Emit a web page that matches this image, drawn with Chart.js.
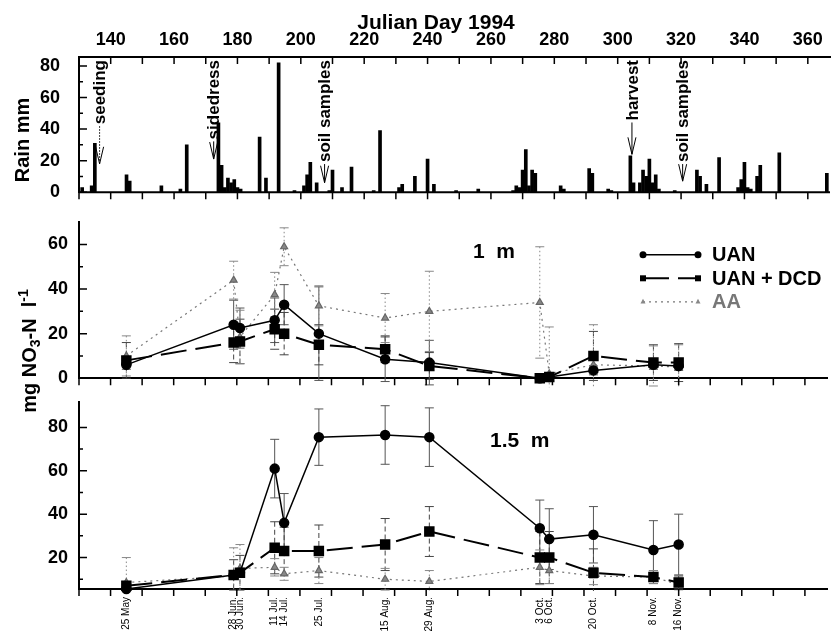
<!DOCTYPE html>
<html>
<head>
<meta charset="utf-8">
<script src="https://cdn.jsdelivr.net/npm/chart.js@4.4.1/dist/chart.umd.min.js"></script>
<style>
  body { margin: 0; background: #fff; }
  #wrap { position: relative; width: 835px; height: 635px; font-family: "Liberation Sans", Arial, sans-serif; }
  #wrap canvas { position: absolute; left: 0; }
  .lbl { position: absolute; font-weight: bold; white-space: nowrap; color: #000; line-height: 1;
         transform: translate(-50%, -50%); }
  .rot { transform: translate(-50%, -50%) rotate(-90deg); }
  .lbl sub { font-size: 70%; vertical-align: -0.25em; }
  .lbl sup { font-size: 70%; vertical-align: 0.55em; }
</style>
</head>
<body>
<div id="wrap">
  <canvas id="rain" width="835" height="222" style="top:0px"></canvas>
  <canvas id="m1" width="835" height="200" style="top:200px"></canvas>
  <canvas id="m15" width="835" height="255" style="top:380px"></canvas>
  <div class="lbl" style="left:436px; top:21px; font-size:21px;">Julian Day 1994</div>
  <div class="lbl rot" style="left:22px; top:140px; font-size:20px;">Rain mm</div>
  <div class="lbl rot" style="left:29px; top:351px; font-size:20px;">mg NO<sub>3</sub>-N&nbsp;&nbsp;l<sup>-1</sup></div>
</div>
<script>
// ---- data ----
const dayTickLabels = [140, 160, 180, 200, 220, 240, 260, 280, 300, 320, 340, 360];
const dayTickMarks = [130, 140, 150, 160, 170, 180, 190, 200, 210, 220, 230, 240,
                      250, 260, 270, 280, 290, 300, 310, 320, 330, 340, 350, 360];

// daily rain (Julian day, mm)
const rainDay = [131, 134, 135, 145, 146, 156, 162, 164, 174, 175, 176, 177, 178, 179, 180, 181,
                 187, 189, 193, 198, 201, 202, 203, 205, 209, 210, 213, 216, 223, 225, 231, 232,
                 236, 240, 242, 249, 256, 267, 268, 269, 270, 271, 272, 273, 274, 282, 283, 291,
                 292, 297, 298, 304, 305, 307, 308, 309, 310, 311, 312, 313, 318, 325, 326, 328,
                 332, 338, 339, 340, 341, 342, 344, 345, 351, 366];
const rainMm  = [3, 4, 31, 11, 7, 4, 2, 30, 44, 17, 3, 9, 6, 8, 3, 2,
                 35, 9, 82, 1, 4, 11, 19, 6, 1, 14, 3, 16, 1, 39, 3, 5,
                 10, 21, 5, 1, 2, 1, 4, 3, 14, 27, 4, 14, 12, 4, 2, 15,
                 12, 2, 1, 23, 6, 6, 14, 10, 21, 6, 11, 2, 1, 14, 10, 5,
                 22, 3, 8, 19, 3, 2, 10, 17, 25, 12];
const rainTicks = [0, 20, 40, 60, 80];
const rainMinor = [10, 30, 50, 70];

// field events marked on the rain panel
const eventText = ['seeding', 'sidedress', 'soil samples', 'harvest', 'soil samples'];
const eventDay  = [136.5, 172.5, 207.5, 304.5, 320.5];
const eventTip  = [18, 21, 6, 24, 7];

// sampling dates
const sampleDays = [145, 179, 181, 192, 195, 206, 227, 241, 276, 279, 293, 312, 320];
const dateLabels = ['25 May', '28 Jun.', '30 Jun.', '11 Jul.', '14 Jul.', '25 Jul.', '15 Aug.',
                    '29 Aug.', '3 Oct.', '6 Oct.', '20 Oct.', '8 Nov.', '16 Nov.'];
const seriesNames = ['UAN', 'UAN + DCD', 'AA'];

// 1 m depth, mg NO3-N per litre, with +/- error
const uan1  = [6, 24, 22.5, 26, 33, 20, 8.5, 7, 0, 0.5, 3.5, 6, 5.5];
const dcd1  = [8, 16, 16.5, 22, 20, 15, 13, 5.5, 0, 0.5, 10, 7, 7];
const aa1   = [10, 44, 18.5, 37.5, 59, 32.5, 27, 30, 34, 2, 6, 5.5, 5];
const uanE1 = [2, 11, 9, 10, 9, 21, 10, 10, 0, 0, 2, 2, 2];
const dcdE1 = [8, 9, 10, 9, 9.5, 9, 6, 6, 0, 0, 11, 8, 8.5];
const aaE1  = [9, 8.5, 12, 10, 8.5, 9, 11, 18, 25, 21, 18, 9, 10];
const m1Ticks = [0, 20, 40, 60];
const m1Minor = [10, 30, 50];

// 1.5 m depth
const uan2  = [5.5, 12, 13, 61, 36, 75.5, 76.5, 75.5, 33.5, 28.5, 30.5, 23.5, 26];
const dcd2  = [7, 12, 13, 24.5, 23, 23, 26, 32, 20, 20, 13, 11, 8.5];
const aa2   = [8.5, 11.5, 15, 15.5, 12.5, 14, 10, 9, 15.5, 14, 11.5, 11, 7.5];
const uanE2 = [2, 2, 2, 13.5, 13.5, 13, 13.5, 13.5, 13, 14, 13, 13.5, 14];
const dcdE2 = [2, 7, 8, 12, 11, 12, 12, 11.5, 12, 12, 11, 3, 3];
const aaE2  = [11.5, 13, 11, 4, 3, 6, 5, 5, 8, 6, 4, 3, 3];
const m15Ticks = [20, 40, 60, 80];
const m15Minor = [10, 30, 50, 70];

// ---- shared bits ----
const FONT = '"Liberation Sans", Arial, sans-serif';
const tickFont = { family: FONT, size: 18, weight: 'bold' };
const DAY_MIN = 130, DAY_MAX = 367;

// tick marks: x ticks hang downward from the axis line, y ticks point inward
const tickMarks = {
  id: 'tickMarks',
  afterDraw(chart, args, o) {
    const { ctx, chartArea: a, scales: { x, y } } = chart;
    ctx.save();
    ctx.strokeStyle = '#000';
    ctx.lineWidth = 1.5;
    ctx.beginPath();
    const yx = o.xTop ? a.top : a.bottom;
    dayTickMarks.forEach(d => {
      const px = x.getPixelForValue(d);
      ctx.moveTo(px, yx);
      ctx.lineTo(px, yx + 7);
      if (o.xTop) { ctx.moveTo(px, a.bottom); ctx.lineTo(px, a.bottom + 7); }
    });
    o.major.forEach(v => {
      const py = y.getPixelForValue(v);
      ctx.moveTo(a.left, py); ctx.lineTo(a.left + 8, py);
    });
    o.minor.forEach(v => {
      const py = y.getPixelForValue(v);
      ctx.moveTo(a.left, py); ctx.lineTo(a.left + 4, py);
    });
    ctx.stroke();
    if (o.xTop) {
      // rain panel baseline
      ctx.lineWidth = 2;
      ctx.beginPath();
      ctx.moveTo(a.left, a.bottom); ctx.lineTo(a.right, a.bottom);
      ctx.stroke();
    }
    ctx.restore();
  }
};

// arrows + rotated notes on the rain panel
const eventNotes = {
  id: 'eventNotes',
  afterDatasetsDraw(chart) {
    const { ctx, chartArea: a, scales: { x, y } } = chart;
    ctx.save();
    ctx.font = 'bold 17px ' + FONT;
    ctx.fillStyle = '#000';
    ctx.strokeStyle = '#000';
    eventText.forEach((t, i) => {
      const px = x.getPixelForValue(eventDay[i]);
      const top = a.top + 3;
      const w = ctx.measureText(t).width;
      ctx.save();
      ctx.translate(px + 1, top);
      ctx.rotate(-Math.PI / 2);
      ctx.textAlign = 'right';
      ctx.textBaseline = 'middle';
      ctx.fillText(t, 0, 0);
      ctx.restore();
      const tip = y.getPixelForValue(eventTip[i]);
      ctx.lineWidth = 1;
      ctx.setLineDash(i === 0 ? [1.5, 1.5] : []);
      ctx.beginPath();
      ctx.moveTo(px, top + w + 2);
      ctx.lineTo(px, tip);
      ctx.stroke();
      ctx.setLineDash([]);
      ctx.beginPath();
      ctx.moveTo(px - 4, tip - 17); ctx.lineTo(px, tip); ctx.lineTo(px + 4, tip - 17);
      ctx.stroke();
    });
    ctx.restore();
  }
};

// vertical +/- error whiskers under the points
const errorBars = {
  id: 'errorBars',
  beforeDatasetsDraw(chart, args, o) {
    const { ctx, chartArea: a, scales: { y } } = chart;
    ctx.save();
    ctx.beginPath();
    ctx.rect(0, 0, chart.width, a.bottom + o.below);
    ctx.clip();
    chart.data.datasets.forEach((ds, di) => {
      const meta = chart.getDatasetMeta(di);
      ctx.strokeStyle = ds.errColor;
      ctx.lineWidth = 1;
      meta.data.forEach((pt, i) => {
        const e = ds.errors[i];
        if (!e) return;
        const v = ds.data[i].y;
        const t = y.getPixelForValue(v + e), b = y.getPixelForValue(v - e);
        ctx.setLineDash(ds.errDash);
        ctx.beginPath();
        ctx.moveTo(pt.x, t); ctx.lineTo(pt.x, b);
        ctx.stroke();
        ctx.setLineDash([]);
        ctx.beginPath();
        ctx.moveTo(pt.x - 4.5, t); ctx.lineTo(pt.x + 4.5, t);
        ctx.moveTo(pt.x - 4.5, b); ctx.lineTo(pt.x + 4.5, b);
        ctx.stroke();
      });
    });
    ctx.restore();
  }
};

function marker(ctx, style, x, y, r) {
  ctx.beginPath();
  if (style === 'circle') ctx.arc(x, y, r, 0, Math.PI * 2);
  else if (style === 'rect') ctx.rect(x - r, y - r, 2 * r, 2 * r);
  else { ctx.moveTo(x, y - r * 1.2); ctx.lineTo(x + r, y + r * 0.7); ctx.lineTo(x - r, y + r * 0.7); ctx.closePath(); }
  ctx.fill();
}

// legend: line sample with a marker at each end
const seriesLegend = {
  id: 'seriesLegend',
  afterDraw(chart) {
    const { ctx, chartArea: a } = chart;
    const x0 = 643, x1 = 698;
    const msize = [3.5, 3, 2.5];
    chart.data.datasets.forEach((ds, i) => {
      const yy = a.top + 33 + i * 23.5;
      ctx.save();
      ctx.strokeStyle = ds.borderColor;
      ctx.lineWidth = ds.borderWidth;
      ctx.setLineDash(ds.borderDash || []);
      ctx.beginPath();
      ctx.moveTo(x0, yy); ctx.lineTo(x1, yy);
      ctx.stroke();
      ctx.fillStyle = ds.pointBackgroundColor;
      marker(ctx, ds.pointStyle, x0, yy, msize[i]);
      marker(ctx, ds.pointStyle, x1, yy, msize[i]);
      ctx.fillStyle = i === 2 ? '#777' : '#000';
      ctx.font = 'bold 20px ' + FONT;
      ctx.textBaseline = 'middle';
      ctx.fillText(ds.label, 712, yy + 1);
      ctx.restore();
    });
  }
};

const panelLabel = {
  id: 'panelLabel',
  afterDraw(chart, args, o) {
    const { ctx, chartArea: a } = chart;
    ctx.save();
    ctx.font = 'bold 21px ' + FONT;
    ctx.fillStyle = '#000';
    ctx.textBaseline = 'middle';
    ctx.fillText(o.text, a.left + o.dx, a.top + o.dy);
    ctx.restore();
  }
};

function pts(vals) { return sampleDays.map((d, i) => ({ x: d, y: vals[i] })); }

function nitrateSets(uan, dcd, aa, ue, de, ae) {
  return [
    { label: seriesNames[0], data: pts(uan), errors: ue, errColor: '#555', errDash: [],
      borderColor: '#000', borderWidth: 1.5, pointStyle: 'circle', pointRadius: 4.5,
      pointBackgroundColor: '#000', pointBorderColor: '#000', clip: false },
    { label: seriesNames[1], data: pts(dcd), errors: de, errColor: '#444', errDash: [5, 3],
      borderColor: '#000', borderWidth: 2, borderDash: [26, 9], pointStyle: 'rect', pointRadius: 6,
      pointBackgroundColor: '#000', pointBorderColor: '#000', clip: false },
    { label: seriesNames[2], data: pts(aa), errors: ae, errColor: '#888', errDash: [1.5, 2.5],
      borderColor: '#777', borderWidth: 1.2, borderDash: [2, 4], pointStyle: 'triangle', pointRadius: 4,
      pointBackgroundColor: '#888', pointBorderColor: '#666', clip: false }
  ];
}

function yScale(min, max, ticks, pad) {
  return {
    type: 'linear', min: min, max: max,
    afterBuildTicks: s => { s.ticks = ticks.map(v => ({ value: v })); },
    afterFit: s => { s.width = 79; },
    ticks: { font: tickFont, color: '#000', padding: pad },
    grid: { display: false, drawTicks: false },
    border: { display: true, color: '#000', width: 2 }
  };
}

const common = {
  responsive: false,
  animation: false,
  events: [],
  plugins: { legend: { display: false }, tooltip: { enabled: false } }
};

// ---- rain panel ----
new Chart('rain', {
  type: 'bar',
  data: { datasets: [{ data: rainDay.map((d, i) => ({ x: d, y: rainMm[i] })),
                       backgroundColor: '#000', barThickness: 3 }] },
  options: Object.assign({}, common, {
    layout: { padding: { top: 0, right: 5, bottom: 15, left: 0 } },
    plugins: Object.assign({}, common.plugins, { tickMarks: { xTop: true, major: rainTicks, minor: rainMinor } }),
    scales: {
      x: {
        type: 'linear', position: 'top', min: DAY_MIN, max: DAY_MAX, offset: false,
        afterBuildTicks: s => { s.ticks = dayTickLabels.map(v => ({ value: v })); },
        afterFit: s => { s.height = 57; },
        ticks: { font: tickFont, color: '#000', padding: 6, maxRotation: 0, autoSkip: false },
        grid: { display: false, drawTicks: false, offset: false },
        border: { display: true, color: '#000', width: 2 }
      },
      y: yScale(0, 85.7, rainTicks, 19)
    }
  }),
  plugins: [tickMarks, eventNotes]
});

// ---- 1 m panel ----
new Chart('m1', {
  type: 'line',
  data: { datasets: nitrateSets(uan1, dcd1, aa1, uanE1, dcdE1, aaE1) },
  options: Object.assign({}, common, {
    layout: { padding: { top: 15, right: 5, bottom: 0, left: 0 } },
    plugins: Object.assign({}, common.plugins, {
      tickMarks: { xTop: false, major: m1Ticks, minor: m1Minor },
      errorBars: { below: 9 },
      panelLabel: { text: '1  m', dx: 394, dy: 30 }
    }),
    scales: {
      x: {
        type: 'linear', position: 'bottom', min: DAY_MIN, max: DAY_MAX,
        afterFit: s => { s.height = 18; },
        ticks: { display: false },
        grid: { display: false, drawTicks: false },
        border: { display: true, color: '#000', width: 2 }
      },
      y: yScale(0, 70.2, m1Ticks, 11)
    }
  }),
  plugins: [errorBars, tickMarks, seriesLegend, panelLabel]
});

// ---- 1.5 m panel ----
new Chart('m15', {
  type: 'line',
  data: { datasets: nitrateSets(uan2, dcd2, aa2, uanE2, dcdE2, aaE2) },
  options: Object.assign({}, common, {
    layout: { padding: { top: 4, right: 5, bottom: 0, left: 0 } },
    plugins: Object.assign({}, common.plugins, {
      tickMarks: { xTop: false, major: m15Ticks, minor: m15Minor },
      errorBars: { below: 2 },
      panelLabel: { text: '1.5  m', dx: 411, dy: 39 }
    }),
    scales: {
      x: {
        type: 'linear', position: 'bottom', min: DAY_MIN, max: DAY_MAX,
        afterBuildTicks: s => { s.ticks = sampleDays.map(v => ({ value: v })); },
        afterFit: s => { s.height = 46; },
        ticks: { font: { family: FONT, size: 10 }, color: '#000', padding: 8,
                 maxRotation: 90, minRotation: 90, autoSkip: false,
                 callback: (v, i) => dateLabels[i] },
        grid: { display: false, drawTicks: false },
        border: { display: true, color: '#000', width: 2 }
      },
      y: yScale(5.5, 91.8, m15Ticks, 11)
    }
  }),
  plugins: [errorBars, tickMarks, panelLabel]
});
</script>
</body>
</html>
